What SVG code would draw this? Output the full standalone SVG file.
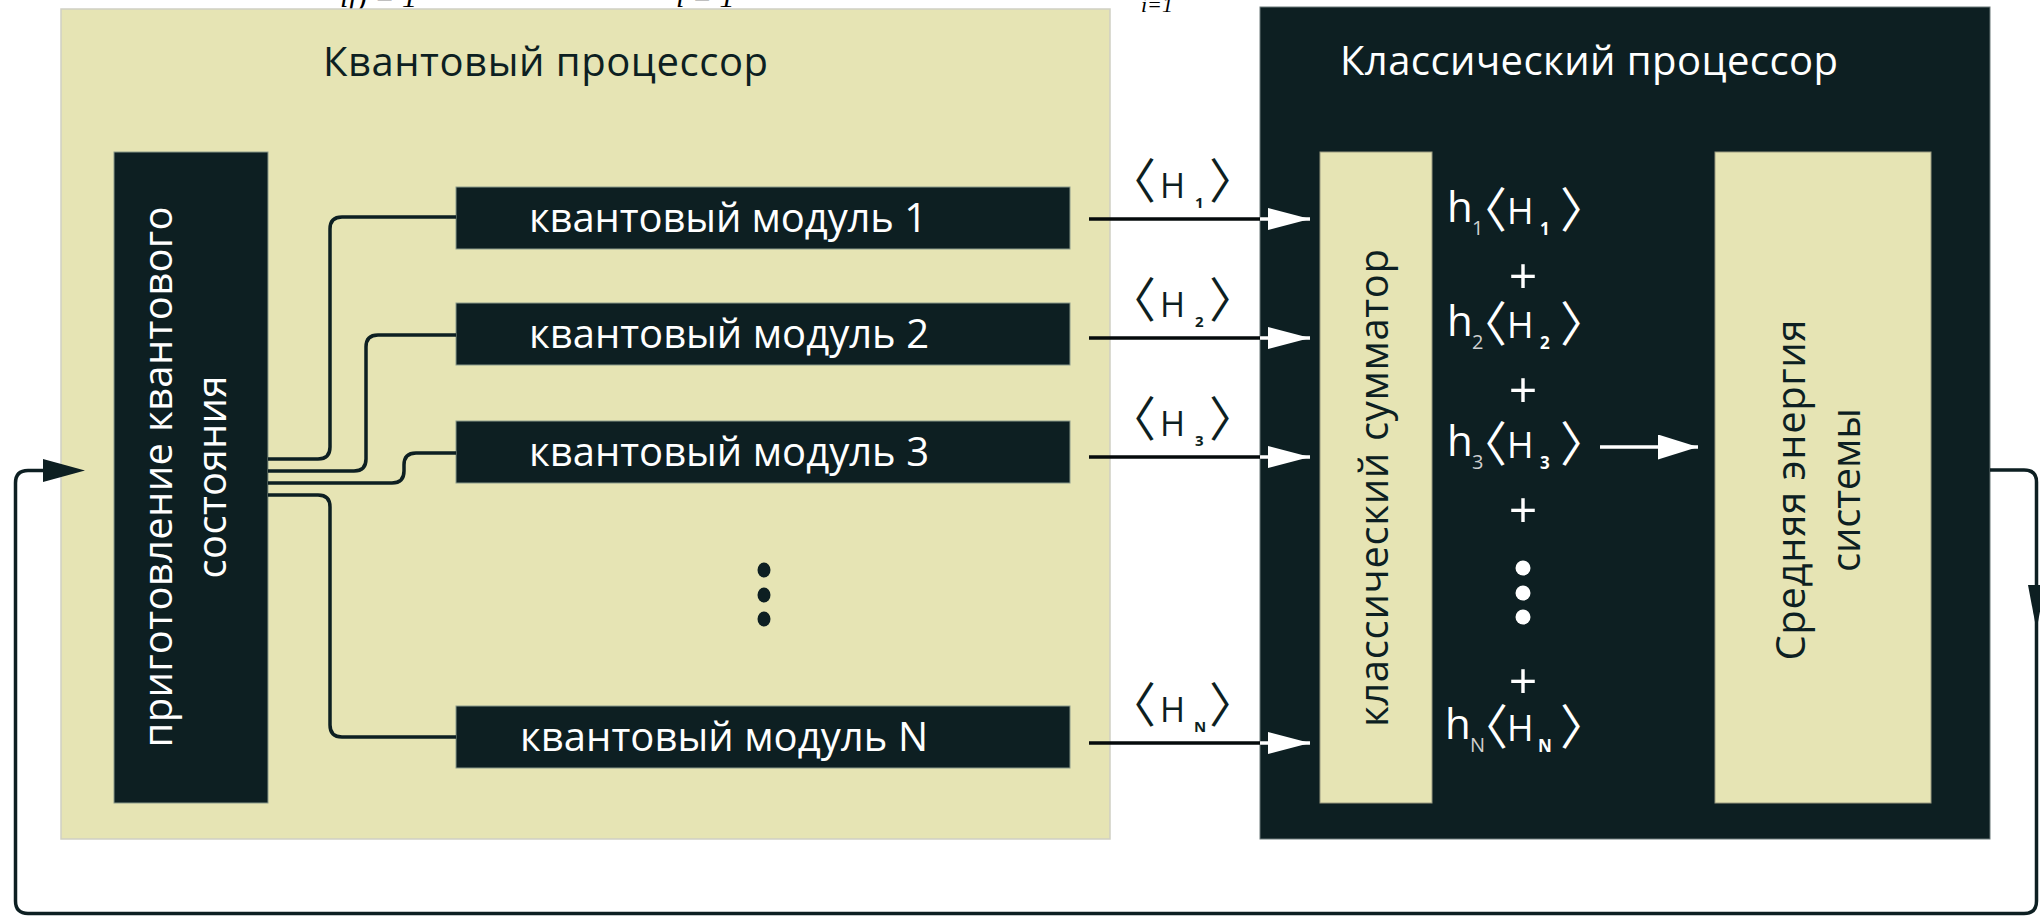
<svg xmlns="http://www.w3.org/2000/svg" width="2040" height="916" viewBox="0 0 2040 916">
<style>
.t{font-family:"Open Sans","Noto Sans","DejaVu Sans",sans-serif}
.lt{fill:#0d1f22}
.wt{fill:#ffffff}
.cjk{font-family:"Noto Sans CJK JP","Noto Sans CJK SC",sans-serif;font-size:48px;font-weight:normal;font-feature-settings:"halt" 1}
.conn{fill:none;stroke:#0d1f22;stroke-width:3.5}
.blk{fill:none;stroke:#050a0b;stroke-width:3.5}
.wl{fill:none;stroke:#ffffff;stroke-width:3.5}
.frag{font-family:"Liberation Serif",serif;font-style:italic;fill:#000}
</style>
<defs>
<marker id="wh" markerUnits="userSpaceOnUse" markerWidth="42" markerHeight="22" refX="42" refY="11" orient="auto"><path d="M0 0 L42 11 L0 22 z" fill="#ffffff"/></marker>
<marker id="wh2" markerUnits="userSpaceOnUse" markerWidth="40" markerHeight="25" refX="40" refY="12.5" orient="auto"><path d="M0 0 L40 12.5 L0 25 z" fill="#ffffff"/></marker>
</defs>
<rect width="2040" height="916" fill="#ffffff"/>
<g id="fragments">
<text class="frag" x="340" y="7" font-size="30">ij) = 1</text>
<text class="frag" x="676" y="7" font-size="30">i = 1</text>
<text class="frag" x="1141" y="12" font-size="22">i=1</text>
</g>
<g id="quantum-processor">
<rect x="61" y="9" width="1049" height="830" fill="#e6e4b4" stroke="#cfcfc4" stroke-width="1.5"/>
<text class="t lt" x="323" y="76" font-size="40" textLength="445">Квантовый процессор</text>
</g>
<g id="classical-processor">
<rect x="1260" y="7" width="730" height="832" fill="#0d1f22" stroke="#6b7878" stroke-width="1"/>
<text class="t wt" x="1340" y="75" font-size="40" textLength="498">Классический процессор</text>
</g>
<g id="prep">
<rect x="114" y="152" width="154" height="651" fill="#0d1f22" stroke="#8a9a8a" stroke-width="1"/>
<text class="t wt" font-size="40" text-anchor="middle" transform="translate(172,477) rotate(-90)" textLength="541">приготовление квантового</text>
<text class="t wt" font-size="40" text-anchor="middle" transform="translate(226,477) rotate(-90)" textLength="203">состояния</text>
</g>
<g id="module1">
<rect x="456" y="187" width="614" height="62" fill="#0d1f22" stroke="#8a9a8a" stroke-width="1"/>
<text class="t wt" x="529" y="232" font-size="40" textLength="398">квантовый модуль 1</text>
</g>
<g id="module2">
<rect x="456" y="303" width="614" height="62" fill="#0d1f22" stroke="#8a9a8a" stroke-width="1"/>
<text class="t wt" x="529" y="348" font-size="40" textLength="400">квантовый модуль 2</text>
</g>
<g id="module3">
<rect x="456" y="421" width="614" height="62" fill="#0d1f22" stroke="#8a9a8a" stroke-width="1"/>
<text class="t wt" x="529" y="466" font-size="40" textLength="400">квантовый модуль 3</text>
</g>
<g id="moduleN">
<rect x="456" y="706" width="614" height="62" fill="#0d1f22" stroke="#8a9a8a" stroke-width="1"/>
<text class="t wt" x="520" y="751" font-size="40" textLength="408">квантовый модуль N</text>
</g>
<g id="dots-quantum" fill="#0d1f22">
<ellipse cx="764" cy="570" rx="6.5" ry="7.5"/>
<ellipse cx="764" cy="595" rx="6.5" ry="7.5"/>
<ellipse cx="764" cy="619" rx="6.5" ry="7.5"/>
</g>
<g id="summator">
<rect x="1320" y="152" width="112" height="651" fill="#e6e4b4" stroke="#9a9a80" stroke-width="1"/>
<text class="t lt" font-size="40" text-anchor="middle" transform="translate(1388,488) rotate(-90)" textLength="478">классический сумматор</text>
</g>
<g id="energy">
<rect x="1715" y="152" width="216" height="651" fill="#e6e4b4" stroke="#9a9a80" stroke-width="1"/>
<text class="t lt" font-size="40" text-anchor="middle" transform="translate(1805,490) rotate(-90)" textLength="341">Средняя энергия</text>
<text class="t lt" font-size="40" text-anchor="middle" transform="translate(1860,490) rotate(-90)" textLength="164">системы</text>
</g>
<g id="sum-terms">
<text id="term1" class="t wt"><tspan x="1447" y="222" font-size="42">h</tspan><tspan x="1472" y="235" font-size="20" fill="#d0d0d0">1</tspan><tspan class="cjk" x="1483" y="227">〈</tspan><tspan x="1507" y="224" font-size="36">H</tspan><tspan x="1540" y="235" font-size="17" font-weight="bold">1</tspan><tspan class="cjk" x="1560" y="227">〉</tspan></text>
<text id="term2" class="t wt"><tspan x="1447" y="336" font-size="42">h</tspan><tspan x="1472" y="349" font-size="20" fill="#d0d0d0">2</tspan><tspan class="cjk" x="1483" y="341">〈</tspan><tspan x="1507" y="338" font-size="36">H</tspan><tspan x="1540" y="349" font-size="17" font-weight="bold">2</tspan><tspan class="cjk" x="1560" y="341">〉</tspan></text>
<text id="term3" class="t wt"><tspan x="1447" y="456" font-size="42">h</tspan><tspan x="1472" y="469" font-size="20" fill="#d0d0d0">3</tspan><tspan class="cjk" x="1483" y="461">〈</tspan><tspan x="1507" y="458" font-size="36">H</tspan><tspan x="1540" y="469" font-size="17" font-weight="bold">3</tspan><tspan class="cjk" x="1560" y="461">〉</tspan></text>
<text id="termN" class="t wt"><tspan x="1445" y="739" font-size="42">h</tspan><tspan x="1470" y="752" font-size="20" fill="#d0d0d0">N</tspan><tspan class="cjk" x="1484" y="744">〈</tspan><tspan x="1507" y="741" font-size="36">H</tspan><tspan x="1538" y="752" font-size="17" font-weight="bold">N</tspan><tspan class="cjk" x="1560" y="744">〉</tspan></text>
<g id="pluses" class="t wt" font-size="50" text-anchor="middle">
<text x="1523" y="294">+</text>
<text x="1523" y="408">+</text>
<text x="1523" y="528">+</text>
<text x="1523" y="699">+</text>
</g>
<g id="dots-classical" fill="#ffffff">
<circle cx="1523" cy="568" r="7.5"/>
<circle cx="1523" cy="593" r="7.5"/>
<circle cx="1523" cy="617" r="7.5"/>
</g>
</g>
<g id="labels">
<text id="lbl1" class="t lt"><tspan class="cjk" x="1132" y="198">〈</tspan><tspan x="1160" y="198" font-size="34">H</tspan><tspan x="1195" y="208" font-size="15" font-weight="bold">1</tspan><tspan class="cjk" x="1209" y="198">〉</tspan></text>
<text id="lbl2" class="t lt"><tspan class="cjk" x="1132" y="317">〈</tspan><tspan x="1160" y="317" font-size="34">H</tspan><tspan x="1195" y="327" font-size="15" font-weight="bold">2</tspan><tspan class="cjk" x="1209" y="317">〉</tspan></text>
<text id="lbl3" class="t lt"><tspan class="cjk" x="1132" y="436">〈</tspan><tspan x="1160" y="436" font-size="34">H</tspan><tspan x="1195" y="446" font-size="15" font-weight="bold">3</tspan><tspan class="cjk" x="1209" y="436">〉</tspan></text>
<text id="lblN" class="t lt"><tspan class="cjk" x="1132" y="722">〈</tspan><tspan x="1160" y="722" font-size="34">H</tspan><tspan x="1194" y="732" font-size="15" font-weight="bold">N</tspan><tspan class="cjk" x="1209" y="722">〉</tspan></text>
</g>
<g id="connectors">
<path class="conn" d="M268 459 H318 Q330 459 330 447 V229 Q330 217 342 217 H456"/>
<path class="conn" d="M268 471 H354 Q366 471 366 459 V347 Q366 335 378 335 H456"/>
<path class="conn" d="M268 483 H392 Q404 483 404 471 V465 Q404 453 416 453 H456"/>
<path class="conn" d="M268 495 H318 Q330 495 330 507 V725 Q330 737 342 737 H456"/>
<path class="blk" d="M1089 219 H1261"/>
<path class="wl" d="M1260 219 H1310" marker-end="url(#wh)"/>
<path class="blk" d="M1089 338 H1261"/>
<path class="wl" d="M1260 338 H1310" marker-end="url(#wh)"/>
<path class="blk" d="M1089 457 H1261"/>
<path class="wl" d="M1260 457 H1310" marker-end="url(#wh)"/>
<path class="blk" d="M1089 743 H1261"/>
<path class="wl" d="M1260 743 H1310" marker-end="url(#wh)"/>
<path class="wl" d="M1600 447 H1698" marker-end="url(#wh2)"/>
<path class="conn" d="M1990 470 H2024 Q2036.5 470 2036.5 482 V901 Q2036.5 913.5 2024 913.5 H28 Q15.5 913.5 15.5 901 V483 Q15.5 470.5 28 470.5 H50"/>
<polygon points="43,459 85,470.5 43,482" fill="#0d1f22"/>
<polygon points="2028,585 2045,585 2036.5,630" fill="#0d1f22"/>
</g>
</svg>
